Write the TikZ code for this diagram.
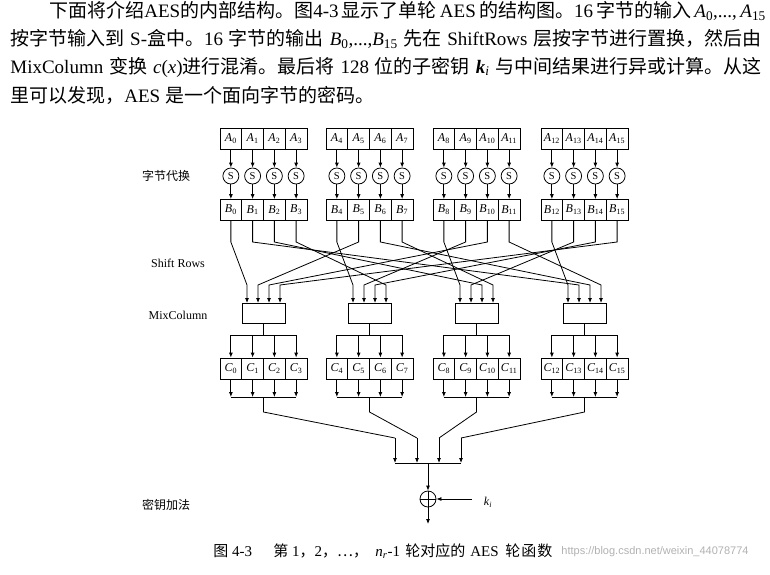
\documentclass[tikz,border=0pt]{standalone}
\usepackage{fontspec}
\setmainfont{Liberation Serif}
\newfontfamily\cjk{Noto Sans CJK SC}
\newfontfamily\wmfont{Liberation Sans}
\usetikzlibrary{arrows.meta,calc}
\newcommand{\zh}[1]{{\cjk #1}}
\newcommand{\vb}[2]{\textit{#1}\textsubscript{#2}}
\begin{document}
\begin{tikzpicture}[x=1pt,y=-1pt,line width=0.8pt,
  cell/.style={draw,minimum width=21.75pt,minimum height=21pt,inner sep=0pt,font=\fontsize{12}{12}\selectfont},
  sbox/.style={draw,circle,minimum size=16pt,inner sep=0pt,font=\fontsize{10.5}{10.5}\selectfont},
  mcbox/.style={draw,minimum width=43pt,minimum height=20pt,inner sep=0pt},
  xorbox/.style={draw,circle,minimum size=16pt,inner sep=0pt},
  arr/.style={-{Latex[length=5pt,width=4pt]}},
  side/.style={inner sep=0pt,font=\fontsize{12}{12}\selectfont},
  body/.style={anchor=west,inner sep=0pt,font=\fontsize{19}{19}\selectfont},
  capt/.style={anchor=west,inner sep=0pt,font=\fontsize{15}{15}\selectfont},
  wm/.style={anchor=west,inner sep=0pt,text=black!30,font=\wmfont\fontsize{11}{11}\selectfont}]
\useasboundingbox (0,0) rectangle (770,574);
\fill[white] (0,0) rectangle (770,574);

% body text
\node[body] (t1) at (49,11) {\makebox[712pt][s]{\zh{下面将介绍}AES\zh{的内部结构。图}4-3\,\zh{显示了单轮}\,AES\,\zh{的结构图。}16\,\zh{字节的输入} \vb{A}{0},..., \vb{A}{15}}};
\node[body] (t2) at (10,39) {\makebox[751pt][s]{\zh{按字节输入到} S-\zh{盒中。}16 \zh{字节的输出} \vb{B}{0},...,\vb{B}{15} \zh{先在} ShiftRows \zh{层按字节进行置换，然后由}}};
\node[body] (t3) at (10,67) {\makebox[751pt][s]{MixColumn \zh{变换} \textit{c}(\textit{x})\zh{进行混淆。最后将} 128 \zh{位的子密钥} \textbf{\textit{k}}\textsubscript{\textit{i}} \zh{与中间结果进行异或计算。从这}}};
\node[body] (t4) at (10,95) {\zh{里可以发现，}AES \zh{是一个面向字节的密码。}};

% side labels
\node[side] (l1) at (166,176) {\zh{字节代换}};
\node[side] (l2) at (178,263) {Shift Rows};
\node[side] (l3) at (178,315) {MixColumn};
\node[side] (l4) at (166,505) {\zh{密钥加法}};

% columns
\foreach \c/\gx/\kx in {0/220/395,1/326/417,2/433/439,3/541/461}{
  \pgfmathsetmacro\gc{\gx+43.5}
  \foreach \r in {0,...,3}{
    \pgfmathtruncatemacro\j{4*\c+\r}
    \pgfmathsetmacro\cx{\gx+10.875+21.75*\r}
    \node[cell] (a\j) at (\cx,138.5) {\vb{A}{\j}};
    \node[sbox] (s\j) at (\cx,176) {S};
    \node[cell] (b\j) at (\cx,210) {\vb{B}{\j}};
    \node[cell] (c\j) at (\cx,368.5) {\vb{C}{\j}};
    \coordinate (bb\j) at (\cx,242);
    \coordinate (in\c-\r) at (\gc-16.5+11*\r,303);
    \coordinate (ii\c-\r) at (\gc-16.5+11*\r,285);
    \draw[arr] (a\j) -- (s\j);
    \draw[arr] (s\j) -- (b\j);
  }
  \node[mcbox] (mc\c) at (\gc,313) {};
  \coordinate (mt\c) at (\gc,335);
  \coordinate (mb\c) at (\gc,397);
  \coordinate (md\c) at (\gc,412);
  \coordinate (kin\c) at (\kx,438);
  \coordinate (kb\c) at (\kx,463);
  \pgfmathtruncatemacro\ja{4*\c}
  \pgfmathtruncatemacro\jd{4*\c+3}
  \draw (mc\c.south) -- (mt\c);
  \draw (c\ja |- mt\c) -- (c\jd |- mt\c);
  \draw (c\ja |- mb\c) -- (c\jd |- mb\c);
  \foreach \r in {0,...,3}{
    \pgfmathtruncatemacro\j{4*\c+\r}
    \draw[arr] (c\j |- mt\c) -- (c\j.north);
    \draw[arr] (c\j.south) -- (c\j |- mb\c);
  }
  \draw (mb\c) -- (md\c) -- (kin\c);
  \draw[arr] (kin\c) -- (kb\c);
}

% shift rows wiring
\foreach \j in {0,...,15}{
  \pgfmathtruncatemacro\c{floor(\j/4)}
  \pgfmathtruncatemacro\r{mod(\j,4)}
  \pgfmathtruncatemacro\m{mod(\c-\r+4,4)}
  \draw[arr] (b\j.south) -- (bb\j) -- (ii\m-\r) -- (in\m-\r);
}

% key addition
\coordinate (kbc) at (428,463);
\node[xorbox] (xr) at (428,499) {};
\draw (xr.north) -- (xr.south);
\draw (xr.west) -- (xr.east);
\draw (kb0) -- (kb3);
\draw[arr] (kbc) -- (xr.north);
\coordinate (kst) at (472,499);
\draw[arr] (kst) -- (xr.east);
\node[inner sep=0pt,font=\fontsize{12}{12}\selectfont] (ki) at (488,502) {\textit{k}\textsubscript{\textit{i}}};
\coordinate (out) at (428,524);
\draw[arr] (xr.south) -- (out);

% caption
\node[capt] (cap) at (213,551) {\makebox[60pt][l]{\zh{图} 4-3}\makebox[102pt][l]{\zh{第} 1\zh{，}2\zh{，…，}}\makebox[30pt][l]{\textit{n}\textsubscript{\textit{r}}-1}\makebox[65pt][l]{\zh{轮对应的}}\makebox[35pt][l]{AES}\zh{轮\hspace{1pt}函\hspace{1pt}数}};
\node[wm] (wmk) at (561,552) {https://blog.csdn.net/weixin\_44078774};
\end{tikzpicture}
\end{document}
